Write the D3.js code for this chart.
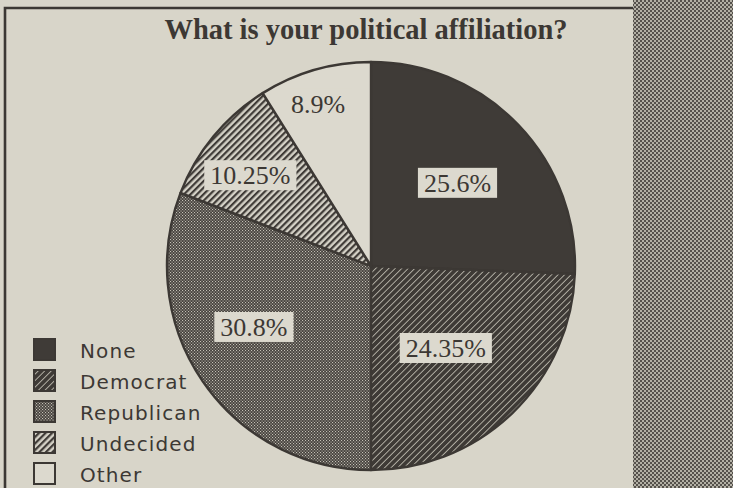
<!DOCTYPE html>
<html>
<head>
<meta charset="utf-8">
<script src="https://cdn.jsdelivr.net/npm/d3@7/dist/d3.min.js"></script>
<style>
  html, body { margin: 0; padding: 0; background: #d8d5c9; }
  svg { display: block; }
</style>
</head>
<body>
<svg id="chart" width="733" height="488"></svg>
<script>
// Survey answers: share of respondents per affiliation (percent)
const categories = ["None", "Democrat", "Republican", "Undecided", "Other"];
const shares = [25.6, 24.35, 30.8, 10.25, 8.9];
const shareLabels = ["25.6%", "24.35%", "30.8%", "10.25%", "8.9%"];
const title = "What is your political affiliation?";

const W = 733, H = 488;
const ink = "#3c3834";
const light = "#dcd9ce";

const svg = d3.select("#chart");
const defs = svg.append("defs");

// fill patterns imitating the print screens
function stripes(id, bg, fg, period, lw) {
  const p = defs.append("pattern").attr("id", id)
    .attr("patternUnits", "userSpaceOnUse")
    .attr("width", period).attr("height", period)
    .attr("patternTransform", "rotate(45)");
  p.append("rect").attr("width", period).attr("height", period).attr("fill", bg);
  p.append("rect").attr("width", lw).attr("height", period).attr("fill", fg);
}
function checker(id, bg, fg, cell, dot) {
  const p = defs.append("pattern").attr("id", id)
    .attr("patternUnits", "userSpaceOnUse")
    .attr("width", cell * 2).attr("height", cell * 2);
  p.append("rect").attr("width", cell * 2).attr("height", cell * 2).attr("fill", bg);
  p.append("rect").attr("x", 0).attr("y", 0).attr("width", dot).attr("height", dot).attr("fill", fg);
  p.append("rect").attr("x", cell).attr("y", cell).attr("width", dot).attr("height", dot).attr("fill", fg);
}
stripes("hatchDem", "#3e3a36", "#b9b6ab", 4.6, 0.9);
checker("dotRep", "#46423e", "#c4c1b6", 1.5, 1.1);
stripes("hatchUnd", "#d4d1c6", "#3f3b37", 4.6, 2.2);
checker("panelDots", "#b3b0a5", "#55514c", 2, 2);

const fills = ["#3f3b37", "url(#hatchDem)", "url(#dotRep)", "url(#hatchUnd)", "#dcd9ce"];
const color = d3.scaleOrdinal().domain(categories).range(fills);

// halftone side panel and frame
svg.append("rect").attr("x", 633).attr("y", 0).attr("width", W - 633).attr("height", H)
  .attr("fill", "url(#panelDots)");
svg.append("path")
  .attr("d", `M5,${H} L5,8 L633,8`)
  .attr("fill", "none").attr("stroke", ink).attr("stroke-width", 2.6);

// title
svg.append("text")
  .attr("x", 366).attr("y", 39)
  .attr("text-anchor", "middle")
  .attr("font-family", "'Liberation Serif', 'Times New Roman', serif")
  .attr("font-weight", "bold")
  .attr("font-size", 28.5)
  .attr("fill", ink)
  .text(title);

// pie
const cx = 371, cy = 266, R = 204;
const data = categories.map((c, i) => ({ name: c, value: shares[i], label: shareLabels[i] }));
const pie = d3.pie().value(d => d.value).sort(null);
const arcs = pie(data);
const arc = d3.arc().innerRadius(0).outerRadius(R);

const g = svg.append("g").attr("transform", `translate(${cx},${cy})`);
g.selectAll("path.slice").data(arcs).join("path")
  .attr("class", "slice")
  .attr("d", arc)
  .attr("fill", d => color(d.data.name))
  .attr("stroke", ink).attr("stroke-width", 2.4).attr("stroke-linejoin", "round");

// value labels on light boxes, placed along each slice's mid-angle
const labelRadius = [120, 111, 132, 151, 171];
const labelAngleShift = [0, 1.5, 7, -2.5, -2];
const labels = g.selectAll("g.lab").data(arcs).join("g").attr("class", "lab")
  .attr("transform", (d, i) => {
    const a = (d.startAngle + d.endAngle) / 2 + labelAngleShift[i] * Math.PI / 180;
    const r = labelRadius[i];
    return `translate(${r * Math.sin(a)},${-r * Math.cos(a)})`;
  });
const boxes = labels.append("rect").attr("fill", light);
const texts = labels.append("text")
  .attr("text-anchor", "middle")
  .attr("dy", "0.35em")
  .attr("font-family", "'Liberation Serif', 'Times New Roman', serif")
  .attr("font-size", 26)
  .attr("fill", ink)
  .text(d => d.data.label);
texts.each(function (d, i) {
  const w = this.getComputedTextLength();
  d3.select(boxes.nodes()[i])
    .attr("x", -w / 2 - 6).attr("y", -15).attr("width", w + 12).attr("height", 30);
});

// legend
const legend = svg.append("g").attr("transform", "translate(33,338)");
const rows = legend.selectAll("g").data(categories).join("g")
  .attr("transform", (d, i) => `translate(0,${i * 31})`);
rows.append("rect")
  .attr("x", 1).attr("y", 1).attr("width", 21).attr("height", 21)
  .attr("fill", d => color(d))
  .attr("stroke", ink).attr("stroke-width", 2);
rows.append("text")
  .attr("x", 47).attr("y", 20)
  .attr("font-family", "'DejaVu Sans', Verdana, sans-serif")
  .attr("font-size", 20)
  .attr("letter-spacing", 1.1)
  .attr("fill", ink)
  .text(d => d);
</script>
</body>
</html>
